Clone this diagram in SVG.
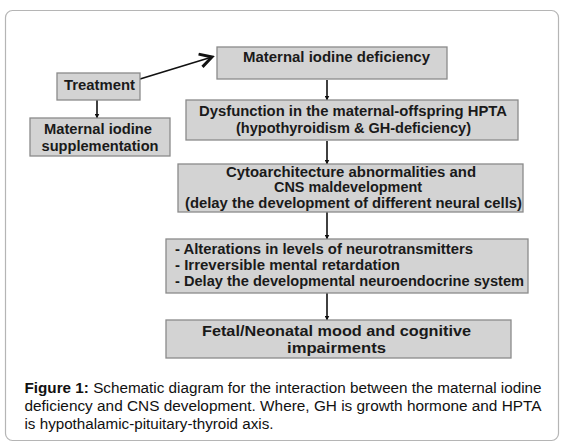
<svg xmlns="http://www.w3.org/2000/svg" width="565" height="447" viewBox="0 0 565 447">
<defs>
<style>
.box{fill:#d3d3d3;stroke:#8a8a8a;stroke-width:1.3}
.t{font-family:"Liberation Sans",Arial,sans-serif;font-weight:bold;font-size:14px;fill:#1a1a1a}
.cap{font-family:"Liberation Sans",Arial,sans-serif;font-size:15.2px;fill:#111}
.ln{stroke:#111;stroke-width:1.6;fill:none}
</style>
<marker id="ah" viewBox="0 0 10 10" refX="9" refY="5" markerWidth="5" markerHeight="5" orient="auto" markerUnits="userSpaceOnUse">
<path d="M0,0 L10,5 L0,10 z" fill="#111"/>
</marker>
<marker id="chev" viewBox="0 0 12 12" refX="10" refY="6" markerWidth="16" markerHeight="16" orient="auto" markerUnits="userSpaceOnUse">
<path d="M1,1 L10,6 L1,11" fill="none" stroke="#111" stroke-width="2.2" stroke-linejoin="miter"/>
</marker>
</defs>
<rect x="0" y="0" width="565" height="447" fill="#ffffff"/>
<rect x="5.5" y="10.5" width="553" height="430" rx="7" ry="7" fill="#ffffff" stroke="#b5b5b5" stroke-width="1.2"/>

<g id="connectors">
<line class="ln" x1="140" y1="79" x2="212" y2="57" stroke-width="2.6" marker-end="url(#chev)"/>
<line class="ln" x1="97" y1="100" x2="97" y2="118" marker-end="url(#ah)"/>
<line class="ln" x1="327" y1="80" x2="327" y2="100" marker-end="url(#ah)"/>
<line class="ln" x1="327" y1="141" x2="327" y2="164" marker-end="url(#ah)"/>
<line class="ln" x1="327" y1="212" x2="327" y2="239" marker-end="url(#ah)"/>
<line class="ln" x1="327" y1="293" x2="327" y2="320" marker-end="url(#ah)"/>
</g>

<g id="n-deficiency">
<rect class="box" x="217" y="47" width="230" height="32"/>
<text class="t" x="243" y="62" textLength="187" lengthAdjust="spacingAndGlyphs">Maternal iodine deficiency</text>
</g>

<g id="n-treatment">
<rect class="box" x="57" y="73" width="83" height="27"/>
<text class="t" x="64" y="90" textLength="71" lengthAdjust="spacingAndGlyphs">Treatment</text>
</g>

<g id="n-supplementation">
<rect class="box" x="30" y="118" width="140" height="38"/>
<text class="t" x="44" y="134" textLength="108" lengthAdjust="spacingAndGlyphs">Maternal iodine</text>
<text class="t" x="41.5" y="151" textLength="117" lengthAdjust="spacingAndGlyphs">supplementation</text>
</g>

<g id="n-dysfunction">
<rect class="box" x="186" y="100" width="332" height="40"/>
<text class="t" x="199" y="116" textLength="308" lengthAdjust="spacingAndGlyphs">Dysfunction in the maternal-offspring  HPTA</text>
<text class="t" x="236" y="133" textLength="235" lengthAdjust="spacingAndGlyphs">(hypothyroidism &amp; GH-deficiency)</text>
</g>

<g id="n-cyto">
<rect class="box" x="178" y="164" width="345" height="48"/>
<text class="t" x="226" y="177" textLength="250" lengthAdjust="spacingAndGlyphs">Cytoarchitecture abnormalities and</text>
<text class="t" x="274" y="192" textLength="148" lengthAdjust="spacingAndGlyphs">CNS maldevelopment</text>
<text class="t" x="185" y="208" textLength="337" lengthAdjust="spacingAndGlyphs">(delay the development of different neural cells)</text>
</g>

<g id="n-alterations">
<rect class="box" x="166" y="239" width="362" height="54"/>
<text class="t" x="175" y="254" textLength="298" lengthAdjust="spacingAndGlyphs">- Alterations in levels of neurotransmitters</text>
<text class="t" x="175" y="270" textLength="225" lengthAdjust="spacingAndGlyphs">- Irreversible mental retardation</text>
<text class="t" x="175" y="286" textLength="349" lengthAdjust="spacingAndGlyphs">- Delay the developmental neuroendocrine system</text>
</g>

<g id="n-fetal">
<rect class="box" x="166" y="320" width="345" height="38"/>
<text class="t" x="202" y="336" textLength="269" lengthAdjust="spacingAndGlyphs" style="font-size:15px">Fetal/Neonatal mood and cognitive</text>
<text class="t" x="287" y="353" textLength="99" lengthAdjust="spacingAndGlyphs" style="font-size:15px">impairments</text>
</g>

<g id="caption">
<text class="cap" x="24.5" y="393" textLength="517" lengthAdjust="spacingAndGlyphs"><tspan font-weight="bold">Figure 1:</tspan> Schematic diagram for the interaction between the maternal iodine</text>
<text class="cap" x="24.5" y="411" textLength="517" lengthAdjust="spacingAndGlyphs">deficiency and CNS development. Where, GH is growth hormone and HPTA</text>
<text class="cap" x="24.5" y="429">is hypothalamic-pituitary-thyroid axis.</text>
</g>
</svg>
